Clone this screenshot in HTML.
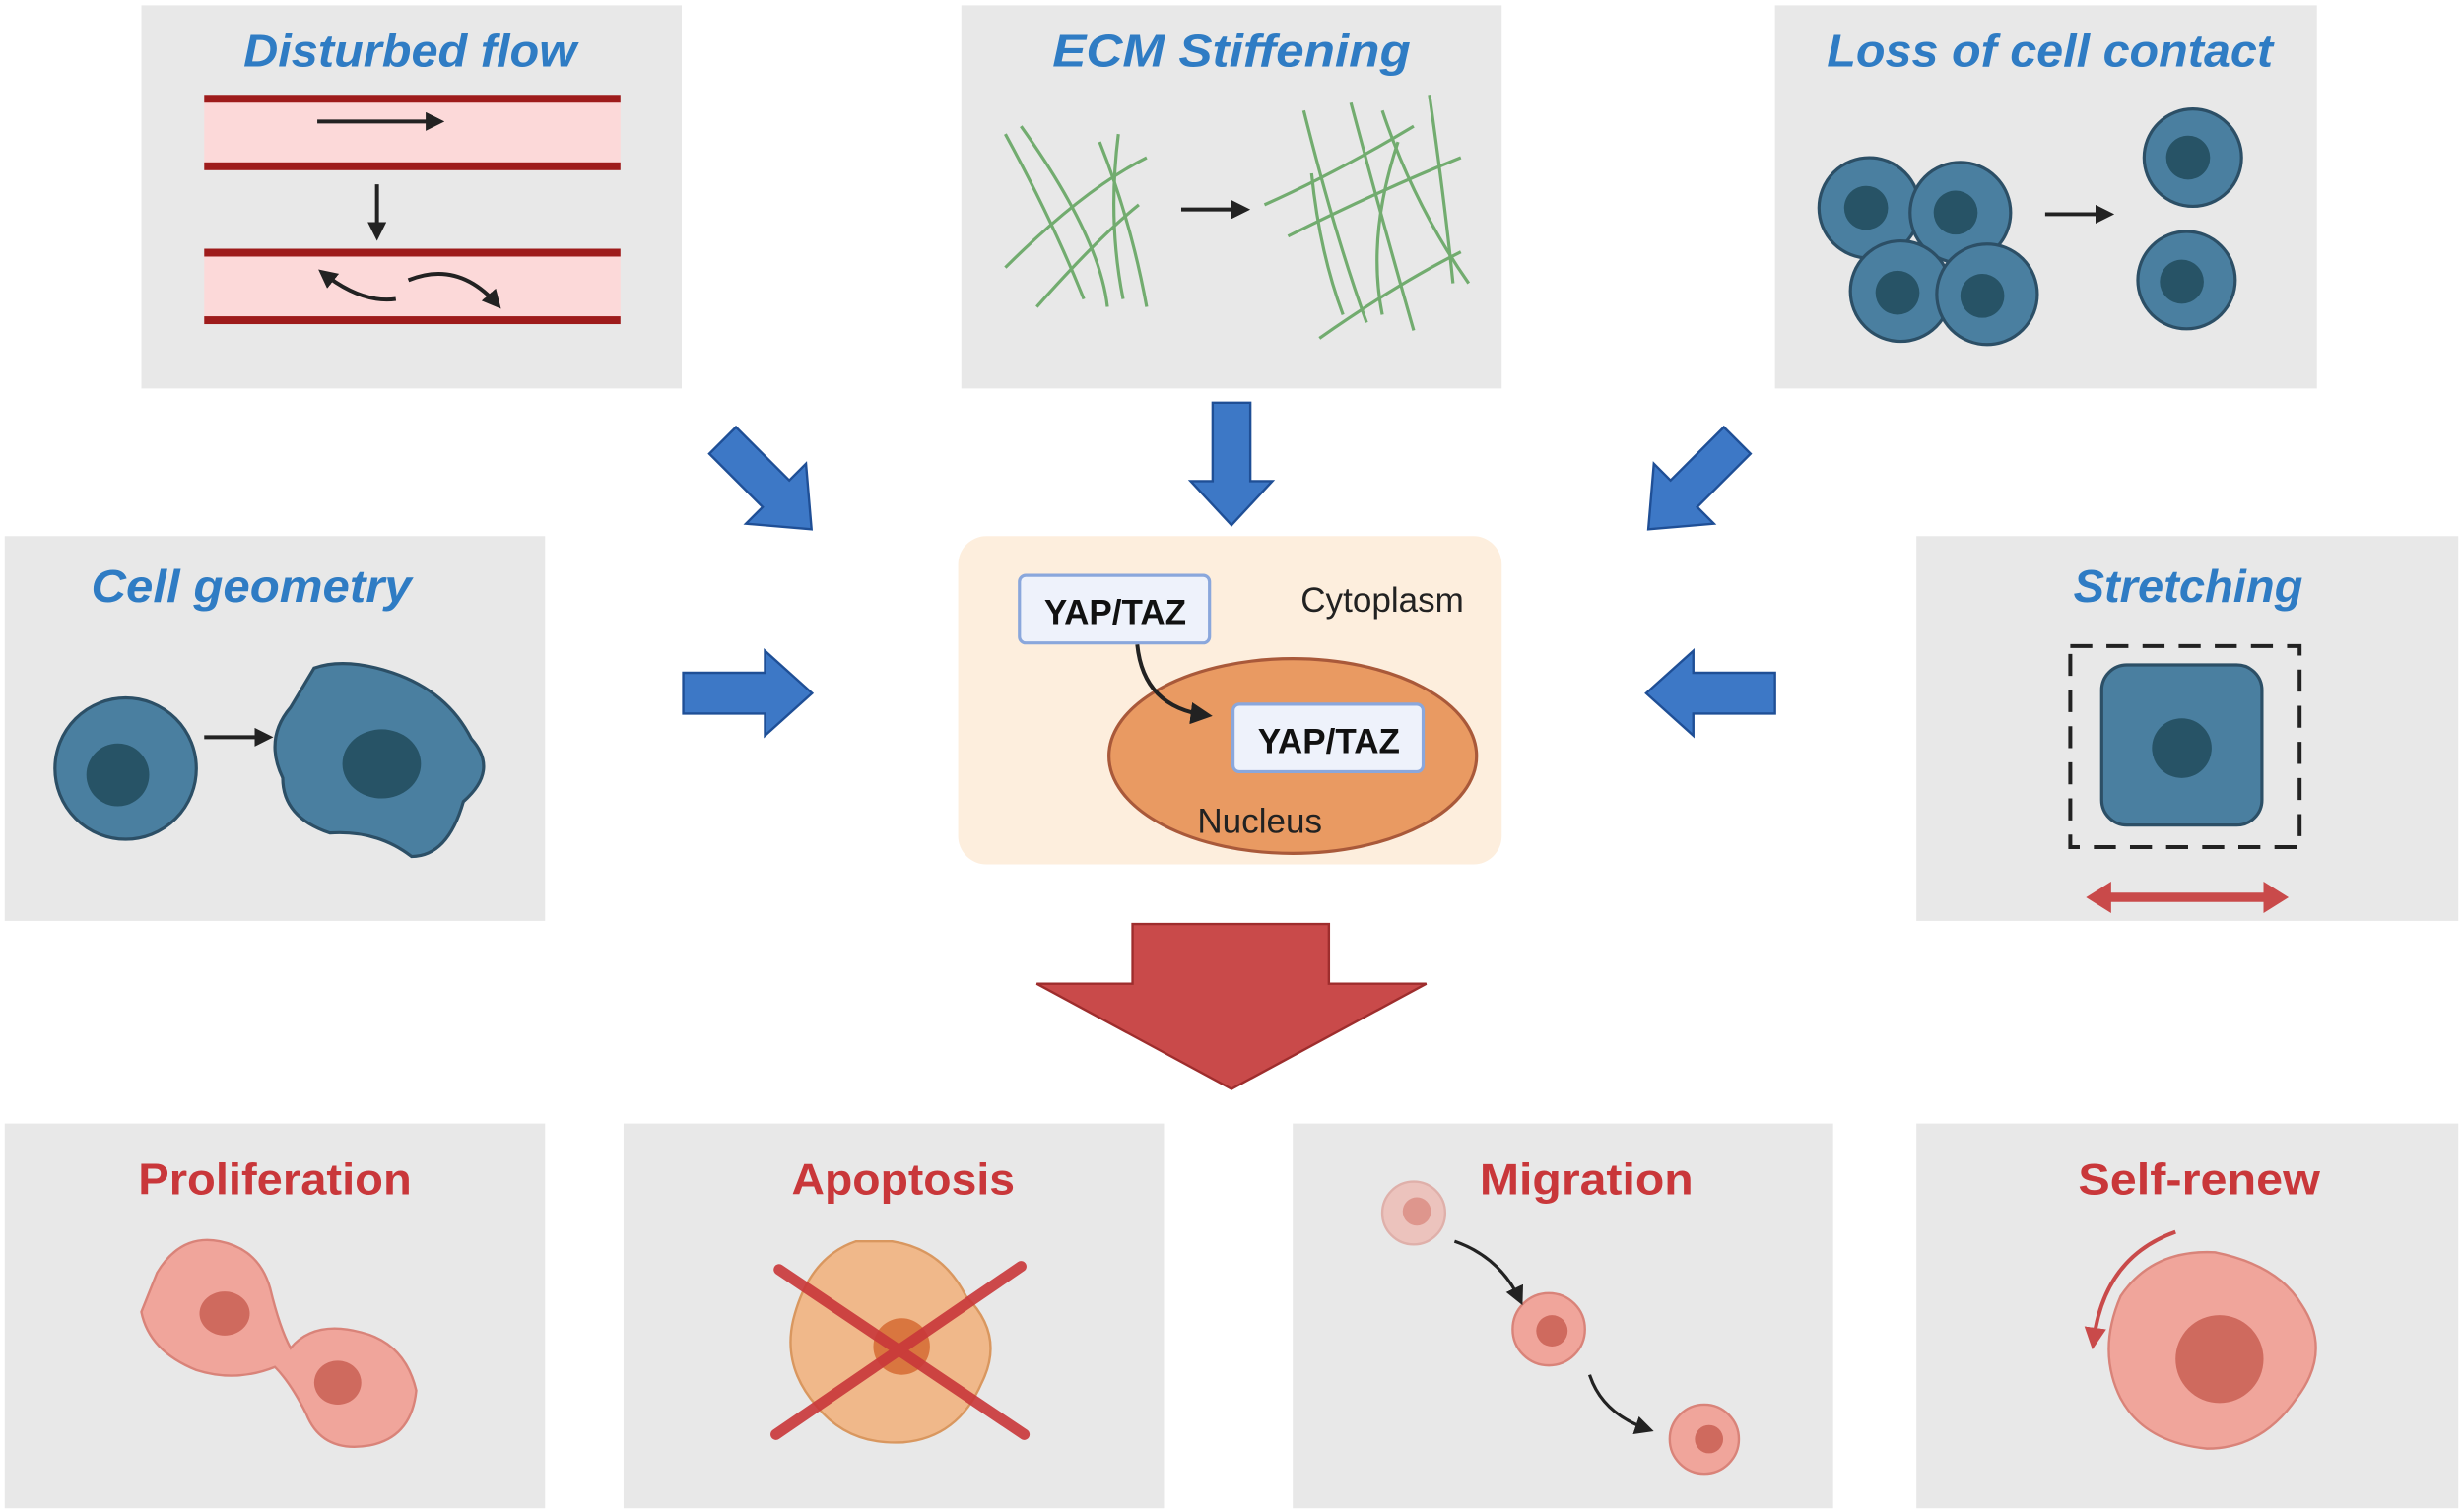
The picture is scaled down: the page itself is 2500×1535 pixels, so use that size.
<!DOCTYPE html>
<html><head><meta charset="utf-8"><style>html,body{margin:0;padding:0;background:#fff}svg{display:block}</style></head>
<body>
<svg width="2500" height="1535" viewBox="0 0 1568 962" xmlns="http://www.w3.org/2000/svg" font-family="Liberation Sans, sans-serif">
<defs>
<marker id="ah" markerWidth="12" markerHeight="12" refX="9" refY="6" orient="auto" markerUnits="userSpaceOnUse"><path d="M0,0 L12,6 L0,12 Z" fill="#222"/></marker>
<marker id="ah2" markerWidth="14" markerHeight="14" refX="10" refY="7" orient="auto" markerUnits="userSpaceOnUse"><path d="M0,0 L14,7 L0,14 Z" fill="#222"/></marker>
<marker id="ahr" markerWidth="14" markerHeight="14" refX="7" refY="7" orient="auto" markerUnits="userSpaceOnUse"><path d="M0,0 L14,7 L0,14 Z" fill="#c94a4a"/></marker>
</defs>
<g fill="#e8e8e8">
<rect x="90" y="3" width="344" height="244"/>
<rect x="612" y="3" width="344" height="244"/>
<rect x="1130" y="3" width="345" height="244"/>
<rect x="3" y="341" width="344" height="245"/>
<rect x="1220" y="341" width="345" height="245"/>
<rect x="3" y="715" width="344" height="245"/>
<rect x="397" y="715" width="344" height="245"/>
<rect x="823" y="715" width="344" height="245"/>
<rect x="1220" y="715" width="345" height="245"/>
</g>
<g font-style="italic" font-weight="bold" font-size="29" fill="#2f7cc4" text-anchor="middle">
<text x="261" y="42" textLength="212" lengthAdjust="spacingAndGlyphs">Disturbed flow</text>
<text x="784" y="42" textLength="228" lengthAdjust="spacingAndGlyphs">ECM  Stiffening</text>
<text x="1305" y="42" textLength="284" lengthAdjust="spacingAndGlyphs">Loss of cell contact</text>
<text x="160" y="383" textLength="204" lengthAdjust="spacingAndGlyphs">Cell geometry</text>
<text x="1393" y="383" textLength="146" lengthAdjust="spacingAndGlyphs">Stretching</text>
</g>
<g font-weight="bold" font-size="28" fill="#c9373a" text-anchor="middle">
<text x="175" y="760" textLength="174" lengthAdjust="spacingAndGlyphs">Proliferation</text>
<text x="575" y="760" textLength="142" lengthAdjust="spacingAndGlyphs">Apoptosis</text>
<text x="1010" y="760" textLength="136" lengthAdjust="spacingAndGlyphs">Migration</text>
<text x="1400" y="760" textLength="154" lengthAdjust="spacingAndGlyphs">Self-renew</text>
</g>
<!-- vessels -->
<rect x="130" y="62" width="265" height="44" fill="#fcd9d9"/>
<rect x="130" y="60" width="265" height="5" fill="#9e1b1b"/>
<rect x="130" y="103" width="265" height="5" fill="#9e1b1b"/>
<rect x="130" y="160" width="265" height="44" fill="#fcd9d9"/>
<rect x="130" y="158" width="265" height="5" fill="#9e1b1b"/>
<rect x="130" y="201" width="265" height="5" fill="#9e1b1b"/>
<g stroke="#222" stroke-width="2.5" fill="none">
<line x1="202" y1="77" x2="280" y2="77" marker-end="url(#ah)"/>
<line x1="240" y1="117" x2="240" y2="150" marker-end="url(#ah)"/>
<path d="M252,190 Q230,193 205,173" marker-end="url(#ah)"/>
<path d="M260,178 Q292,165 317,194" marker-end="url(#ah)"/>
<line x1="752" y1="133" x2="793" y2="133" marker-end="url(#ah)"/>
<line x1="1302" y1="136" x2="1343" y2="136" marker-end="url(#ah)"/>
<line x1="130" y1="469" x2="171" y2="469" marker-end="url(#ah)"/>
</g>
<!-- ECM fibers -->
<g stroke="#5ea25a" stroke-width="2" fill="none" opacity="0.85">
<path d="M640,85 Q670,140 690,190"/><path d="M650,80 Q700,150 705,195"/><path d="M700,90 Q720,140 730,195"/><path d="M640,170 Q690,120 730,100"/><path d="M660,195 Q700,150 725,130"/><path d="M712,85 Q705,140 715,190"/>
<path d="M830,70 Q850,150 870,205"/><path d="M860,65 Q880,140 900,210"/><path d="M880,70 Q900,130 935,180"/><path d="M910,60 Q920,130 925,180"/><path d="M805,130 Q850,110 900,80"/><path d="M820,150 Q880,120 930,100"/><path d="M840,215 Q890,180 930,160"/><path d="M835,110 Q840,160 855,200"/><path d="M890,90 Q870,150 880,200"/>
</g>
<!-- cells -->
<g fill="#4a7fa0" stroke="#2c4f66" stroke-width="2">
<circle cx="1190" cy="132" r="32"/><circle cx="1248" cy="135" r="32"/><circle cx="1210" cy="185" r="32"/><circle cx="1265" cy="187" r="32"/>
<circle cx="1396" cy="100" r="31"/><circle cx="1392" cy="178" r="31"/>
<circle cx="80" cy="489" r="45"/>
<path d="M200,425 Q220,418 250,428 Q285,440 300,470 Q318,490 295,510 Q285,545 262,545 Q240,528 210,530 Q180,520 180,495 Q168,470 185,450 Z"/>
<rect x="1338" y="423" width="102" height="102" rx="16"/>
</g>
<g fill="#275366">
<circle cx="1188" cy="132" r="14"/><circle cx="1245" cy="135" r="14"/><circle cx="1208" cy="186" r="14"/><circle cx="1262" cy="188" r="14"/>
<circle cx="1393" cy="100" r="14"/><circle cx="1389" cy="179" r="14"/>
<circle cx="75" cy="493" r="20"/><ellipse cx="243" cy="486" rx="25" ry="22"/><circle cx="1389" cy="476" r="19"/>
</g>
<rect x="1318" y="411" width="146" height="128" fill="none" stroke="#222" stroke-width="2.5" stroke-dasharray="14,9"/>
<line x1="1340" y1="571" x2="1446" y2="571" stroke="#c94a4a" stroke-width="6"/>
<path d="M1328,571 L1344,561 L1344,581 Z M1457,571 L1441,561 L1441,581 Z" fill="#c94a4a"/>
<!-- blue arrows -->
<g fill="#3d78c6" stroke="#1f4f96" stroke-width="1.5">
<path d="M772,256 h24 v50 h14 l-26,28 l-26,-28 h14 z"/>
<path d="M435,428 h52 v-14 l30,27 l-30,27 v-14 h-52 z"/>
<path d="M1130,428 h-52 v-14 l-30,27 l30,27 v-14 h52 z"/>
<g transform="translate(494,314) rotate(45)"><path d="M-48,-12 h48 v-15 l32,27 l-32,27 v-15 h-48 z"/></g>
<g transform="translate(1072,314) rotate(135)"><path d="M-48,-12 h48 v-15 l32,27 l-32,27 v-15 h-48 z"/></g>
</g>
<!-- center -->
<rect x="610" y="341" width="346" height="209" rx="18" fill="#fdeedd"/>
<ellipse cx="823" cy="481" rx="117" ry="62" fill="#e99a62" stroke="#a9593a" stroke-width="2"/>
<rect x="649" y="366" width="121" height="43" rx="4" fill="#eef2fb" stroke="#8aa7dc" stroke-width="2"/>
<text x="710" y="397" font-weight="bold" font-size="22" text-anchor="middle" fill="#111">YAP/TAZ</text>
<rect x="785" y="448" width="121" height="43" rx="4" fill="#eef2fb" stroke="#8aa7dc" stroke-width="2"/>
<text x="846" y="479" font-weight="bold" font-size="22" text-anchor="middle" fill="#111">YAP/TAZ</text>
<text x="880" y="389" font-size="22" text-anchor="middle" fill="#222">Cytoplasm</text>
<text x="802" y="530" font-size="22" text-anchor="middle" fill="#222">Nucleus</text>
<path d="M724,410 Q728,450 768,455" stroke="#222" stroke-width="2.5" fill="none" marker-end="url(#ah2)"/>
<!-- red arrow -->
<path d="M721,588 h125 v38 h62 l-124,67 l-124,-67 h61 z" fill="#c94a4a" stroke="#9e2d2d" stroke-width="1.5"/>
<!-- outcomes -->
<g fill="#f0a59b" stroke="#d98379" stroke-width="1.5">
<path d="M100,810 Q115,785 140,790 Q165,795 172,820 Q178,845 185,858 Q200,840 230,848 Q258,855 265,885 Q262,915 235,920 Q205,925 195,900 Q185,880 175,870 Q150,880 125,872 Q95,860 90,835 Z"/>
<path d="M568,790 Q600,795 615,825 Q640,850 625,880 Q610,915 575,918 Q540,920 520,895 Q498,870 505,840 Q515,800 545,790 Z" fill="#f0b88a" stroke="#d9975f"/>
<circle cx="900" cy="772" r="20" opacity="0.55"/>
<circle cx="986" cy="846" r="23"/>
<circle cx="1085" cy="916" r="22"/>
<path d="M1410,797 Q1450,805 1465,830 Q1485,860 1462,890 Q1440,922 1405,922 Q1365,918 1350,890 Q1335,860 1350,825 Q1370,795 1410,797 Z"/>
</g>
<g fill="#cf6a5e">
<ellipse cx="143" cy="836" rx="16" ry="14"/><ellipse cx="215" cy="880" rx="15" ry="14"/>
<circle cx="574" cy="857" r="18" fill="#d9763f"/>
<circle cx="902" cy="771" r="9" opacity="0.5"/><circle cx="988" cy="847" r="10"/><circle cx="1088" cy="916" r="9"/>
<circle cx="1413" cy="865" r="28"/>
</g>
<g stroke="#c9373a" stroke-width="7" stroke-linecap="round" opacity="0.9">
<line x1="496" y1="808" x2="652" y2="913"/><line x1="650" y1="806" x2="494" y2="913"/>
</g>
<g stroke="#222" stroke-width="2" fill="none">
<path d="M926,790 Q955,800 968,828" marker-end="url(#ah)"/>
<path d="M1012,875 Q1020,900 1050,910" marker-end="url(#ah)"/>
</g>
<path d="M1385,784 Q1340,800 1333,852" stroke="#c94a4a" stroke-width="2.5" fill="none" marker-end="url(#ahr)"/>
</svg>
</body></html>
